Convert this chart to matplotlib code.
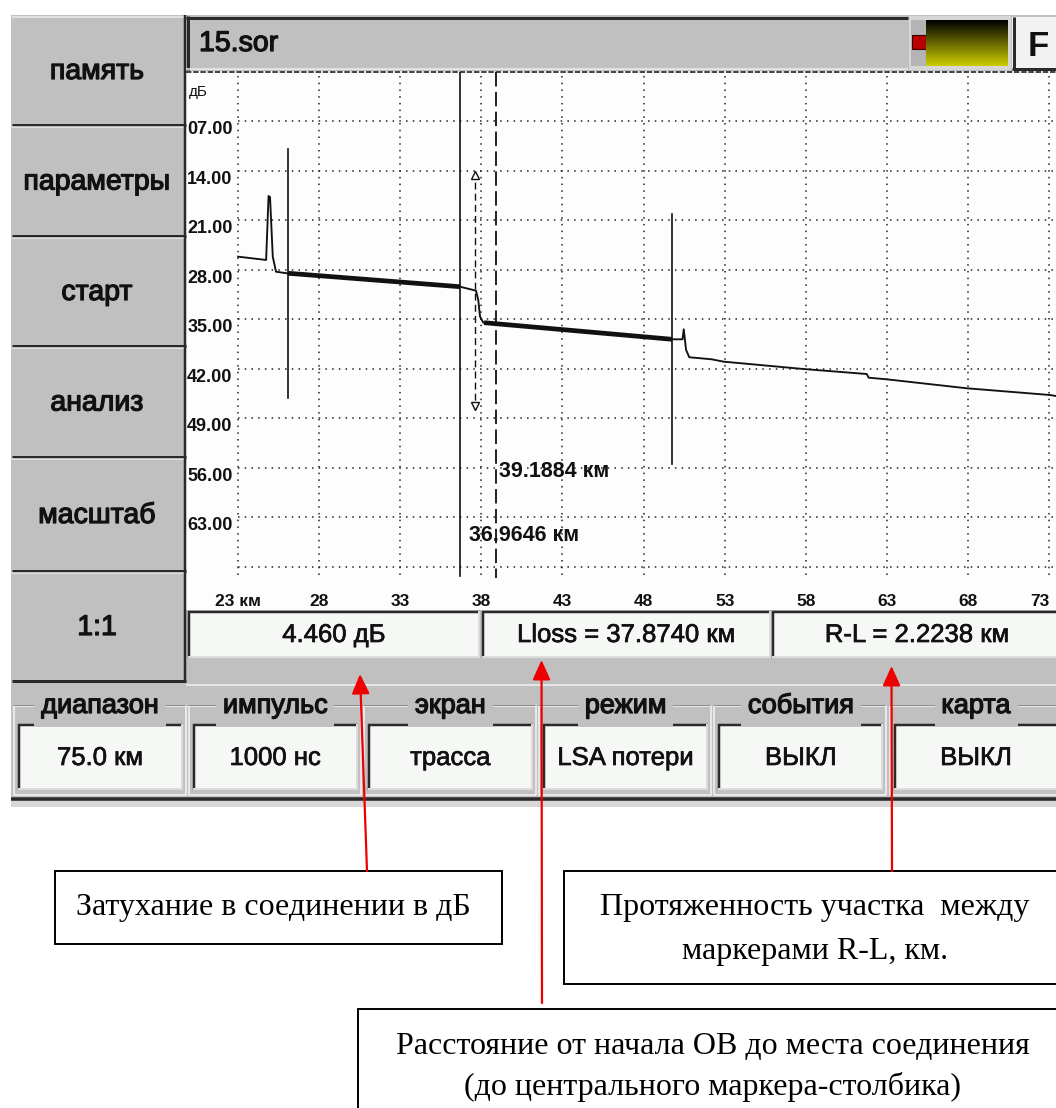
import numpy as np
import matplotlib.pyplot as plt
from matplotlib.patches import Rectangle
import matplotlib.patheffects as pe

W, H = 1056, 1108
DPI = 100

plt.rcParams['font.family'] = ['Liberation Sans', 'DejaVu Sans']

# reflectogram trace, km / dB
trace_km = [23.28, 25.01, 25.16, 25.25, 25.42, 25.62, 26.28, 26.36, 36.96, 37.95,
            38.09, 38.20, 38.40, 38.45, 50.04, 50.68, 50.76, 50.90, 51.10, 52.48,
            53.20, 58.13, 62.04, 62.16, 63.27, 68.21, 73.34, 73.71]
trace_db = [26.12, 26.59, 17.54, 17.68, 26.12, 28.25, 28.47, 28.47, 30.37, 30.93,
            32.25, 34.60, 35.46, 35.46, 37.81, 37.81, 36.39, 39.29, 40.35, 40.64,
            40.97, 42.01, 42.72, 43.24, 43.47, 44.74, 45.69, 45.83]

# markers (km) and their vertical spans (dB)
marker_a_km = 26.36
marker_a_span = [10.9, 46.1]
marker_b_km = 50.04
marker_b_span = [20.1, 55.4]
marker_l_km = 36.9646
marker_r_km = 39.1884
marker_c_km = 37.874
marker_c_span = [14.0, 47.8]
lsa_windows = [(marker_a_km, marker_l_km), (38.45, marker_b_km)]
splice_loss_db = 4.460

x_grid_km = [23.28, 28.28, 33.28, 38.28, 43.28, 48.28, 53.28, 58.28, 63.28, 68.28, 73.28]
x_tick_labels = ["23 км", "28", "33", "38", "43", "48", "53", "58", "63", "68", "73"]
y_grid_db = [7, 14, 21, 28, 35, 42, 49, 56, 63, 70]
y_tick_labels = ["07.00", "14.00", "21.00", "28.00", "35.00", "42.00", "49.00", "56.00", "63.00", ""]

menu_buttons = ["память", "параметры", "старт", "анализ", "масштаб", "1:1"]
tab_titles = ["диапазон", "импульс", "экран", "режим", "события", "карта"]
tab_values = ["75.0 км", "1000 нс", "трасса", "LSA потери", "ВЫКЛ", "ВЫКЛ"]

GREY = '#c0c0c0'
DARK = '#2a2a2a'
LIGHT = '#ececec'
BOXFILL = '#f5f8f5'
INK = '#111111'

# heavier strokes for the screen font
heavy = [pe.withStroke(linewidth=0.9, foreground=INK)]
medium = [pe.withStroke(linewidth=0.5, foreground=INK)]

fig = plt.figure(figsize=(W / DPI, H / DPI), dpi=DPI)
fig.patch.set_facecolor('white')

ui = fig.add_axes([0, 0, 1, 1])
ui.set_xlim(0, W)
ui.set_ylim(H, 0)
ui.axis('off')


def rect(x0, y0, x1, y1, fc, ec='none', lw=0, z=1):
    ui.add_patch(Rectangle((x0, y0), x1 - x0, y1 - y0, facecolor=fc,
                           edgecolor=ec, linewidth=lw, zorder=z))


def line(xs, ys, c, px, z=3, ls='-'):
    ui.plot(xs, ys, color=c, lw=px * 0.72, ls=ls, solid_capstyle='butt', zorder=z)


def sunken(x0, y0, x1, y1, fc=BOXFILL):
    rect(x0, y0, x1, y1, fc, z=2)
    line([x0, x1], [y0 + 1, y0 + 1], DARK, 2.5)
    line([x0 + 1, x0 + 1], [y0, y1], DARK, 2.5)
    line([x0, x1], [y1 - 1, y1 - 1], '#dcdcdc', 2)
    line([x1 - 1, x1 - 1], [y0, y1], '#dcdcdc', 2)


# device screen background
rect(11, 15, W, 806, GREY)

# left menu buttons
bounds = [15, 125, 236, 346, 457, 571, 681]
for i, name in enumerate(menu_buttons):
    y0, y1 = bounds[i], bounds[i + 1]
    line([12, 184], [y0 + 2, y0 + 2], LIGHT, 1.5)
    line([12, 186], [y1, y1], DARK, 3)
    ui.text(97, (y0 + y1) / 2 + 2, name, ha='center', va='center', fontsize=20.5, color=INK,
            zorder=5, path_effects=heavy)
line([185, 185], [15, 681], DARK, 2.5)

# title bar with file name
rect(186, 16, 908, 70, GREY, z=2)
line([186, 908], [17.5, 17.5], DARK, 3)
line([187.5, 187.5], [16, 70], DARK, 3)
line([186, 908], [69, 69], LIGHT, 1.5)
ui.text(199, 44, "15.sor", ha='left', va='center', fontsize=20.5, color=INK, zorder=5,
        path_effects=heavy)

# battery indicator
rect(909, 16, 1011, 70, '#d6d6d6', z=2)
rect(911, 20, 926, 66, '#b4b4b4', z=3)
rect(912, 35, 926, 49, '#b80000', ec='#400000', lw=0.8, z=4)
grad = np.linspace(0, 1, 64)[:, None, None] * np.array([0.80, 0.80, 0.0])[None, None, :]
ui.imshow(grad, extent=(926, 1008, 66, 20), aspect='auto', origin='upper', zorder=4)
ui.set_xlim(0, W)
ui.set_ylim(H, 0)

# "F" key
rect(1012, 17, 1062, 70, '#f2f2f2', z=2)
line([1013.5, 1013.5], [17, 70], DARK, 3)
line([1012, 1062], [68.5, 68.5], DARK, 3)
ui.text(1038, 46, "F", ha='center', va='center', fontsize=25, fontweight='bold', color=INK, zorder=5)

# plot area background
rect(186, 71, W, 610, '#fdfdfd', z=2)
line([186, W], [72, 72], '#333333', 1.8, z=4, ls=(0, (3, 1)))
ui.text(189, 92, "дБ", ha='left', va='center', fontsize=11, color=INK, zorder=5)

# measurement result boxes
r_minus_l = marker_r_km - marker_l_km
info = [(188, 480, f"{splice_loss_db:.3f} дБ"),
        (482, 771, f"Lloss = {marker_c_km:.4f} км"),
        (772, 1062, f"R-L = {r_minus_l:.4f} км")]
for x0, x1, txt in info:
    sunken(x0, 611, x1, 658)
    ui.text((x0 + x1) / 2, 635, txt, ha='center', va='center', fontsize=18.5, color=INK,
            zorder=5, path_effects=medium)

rect(186, 658, W, 684, GREY, z=2)
line([186, W], [685, 685], '#e6e6e6', 2)

# parameter tabs
for i, (title, value) in enumerate(zip(tab_titles, tab_values)):
    bx = 17.6 + 175.2 * i
    line([bx - 4, bx + 168, bx + 168, bx - 4, bx - 4], [706, 706, 795, 795, 706], '#f4f4f4', 1.5, z=2)
    line([bx - 5, bx + 167], [705, 705], '#8c8c8c', 1, z=2)
    ui.text(bx + 82.5, 706, title, ha='center', va='center', fontsize=19.5, color=INK, zorder=5,
            path_effects=heavy, bbox=dict(boxstyle='square,pad=0.25', fc=GREY, ec='none'))
    sunken(bx, 724, bx + 165, 790)
    ui.text(bx + 82.5, 758, value, ha='center', va='center', fontsize=18.5, color=INK, zorder=5,
            path_effects=medium)

line([11, W], [799, 799], DARK, 3.5)
rect(11, 801, W, 807, '#d8d8d8', z=2)

# callout boxes under the screen
serif = ['Liberation Serif', 'DejaVu Serif']
rect(55, 871, 502, 944, 'white', ec='black', lw=1.4, z=2)
ui.text(273, 907, "Затухание в соединении в дБ", ha='center', va='center',
        fontsize=23, family=serif, zorder=5)
rect(564, 871, 1070, 984, 'white', ec='black', lw=1.4, z=2)
ui.text(815, 907, "Протяженность участка  между", ha='center', va='center',
        fontsize=23, family=serif, zorder=5)
ui.text(815, 951, "маркерами R-L, км.", ha='center', va='center',
        fontsize=23, family=serif, zorder=5)
rect(358, 1009, 1070, 1120, 'white', ec='black', lw=1.4, z=2)
ui.text(713, 1046, "Расстояние от начала ОВ до места соединения", ha='center', va='center',
        fontsize=23, family=serif, zorder=5)
ui.text(713, 1087, "(до центрального маркера-столбика)", ha='center', va='center',
        fontsize=23, family=serif, zorder=5)

arrow_kw = dict(arrowstyle='-|>,head_length=1.0,head_width=0.45', color='#ee0000',
                lw=1.6, mutation_scale=12, shrinkA=0, shrinkB=0)
for tip, base in [((360, 674), (367, 871)), ((541.5, 660), (542, 1003)), ((891.5, 666), (892, 871))]:
    ui.annotate('', xy=tip, xytext=base, arrowprops=arrow_kw, zorder=6)

# reflectogram axes
ax = fig.add_axes([186 / W, 1 - 581 / H, 870 / W, 509 / H])
ax.patch.set_visible(False)
ax.set_xlim(20.07, 73.71)
ax.set_ylim(72, 0)
for s in ax.spines.values():
    s.set_visible(False)

ax.set_xticks(x_grid_km)
ax.set_xticklabels(x_tick_labels, fontsize=12.5, fontweight='bold', color=INK)
ax.set_yticks(y_grid_db)
ax.set_yticklabels(y_tick_labels, fontsize=13, fontweight='bold', color=INK)
ax.tick_params(axis='x', length=0, pad=9)
ax.tick_params(axis='y', length=0, pad=-33.5)
for lbl in ax.get_yticklabels():
    lbl.set_va('top')
# last distance label sits on the right edge of the screen
ax.get_xticklabels()[-1].set_ha('right')

dots = (0, (1, 3.4))
for xg in x_grid_km:
    ax.plot([xg, xg], [0.5, 71.3], color='#222222', lw=1.1, ls=dots, zorder=1)
for yg in y_grid_db:
    ax.plot([x_grid_km[0], 73.71], [yg, yg], color='#222222', lw=1.1, ls=dots, zorder=1)

ax.plot(trace_km, trace_db, color=INK, lw=1.35, zorder=3)
for a, b in lsa_windows:
    xs = [a] + [k for k in trace_km if a < k < b] + [b]
    ax.plot(xs, np.interp(xs, trace_km, trace_db), color=INK, lw=3.4,
            solid_capstyle='butt', zorder=3)

ax.plot([marker_a_km] * 2, marker_a_span, color=INK, lw=1.2, zorder=4)
ax.plot([marker_b_km] * 2, marker_b_span, color=INK, lw=1.2, zorder=4)
ax.plot([marker_l_km] * 2, [0, 71.3], color=INK, lw=1.2, zorder=4)
ax.plot([marker_r_km] * 2, [0, 71.6], color=INK, lw=1.3, ls=(0, (8, 3)), zorder=4)
ax.plot([marker_c_km] * 2, marker_c_span, color=INK, lw=1.0, ls=(0, (5, 3)), zorder=4)
ax.plot([marker_c_km], [marker_c_span[0] + 0.5], marker='^', ms=6, mfc='white', mec=INK, mew=1, zorder=5)
ax.plot([marker_c_km], [marker_c_span[1] - 0.5], marker='v', ms=6, mfc='white', mec=INK, mew=1, zorder=5)

ax.annotate(f"{marker_r_km:.4f} км", xy=(marker_r_km, 56.5), xytext=(2, 0), textcoords='offset points',
            ha='left', va='center', fontsize=15.5, fontweight='bold', color=INK)
ax.annotate(f"{marker_l_km:.4f} км", xy=(marker_l_km, 65.5), xytext=(6.5, 0), textcoords='offset points',
            ha='left', va='center', fontsize=15.5, fontweight='bold', color=INK)

fig.savefig('out.png', dpi=DPI)
